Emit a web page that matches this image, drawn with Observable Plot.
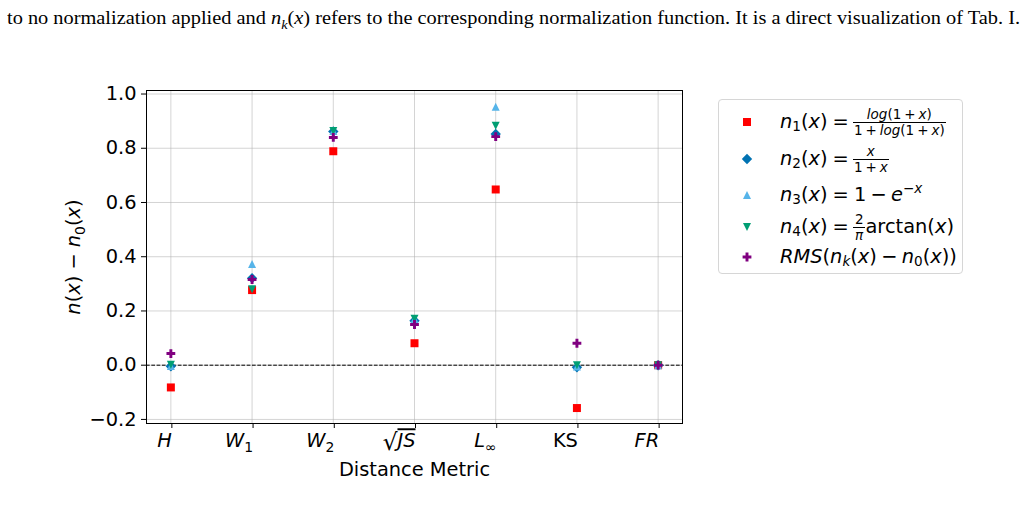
<!DOCTYPE html>
<html><head><meta charset="utf-8">
<script src="https://cdn.jsdelivr.net/npm/d3@7"></script>
<script src="https://cdn.jsdelivr.net/npm/@observablehq/plot@0.6"></script>
<style>
html,body{margin:0;padding:0;background:#fff;}
body{width:1027px;height:518px;overflow:hidden;position:relative;font-family:"DejaVu Sans",sans-serif;color:#000;}
#caption{position:absolute;left:7px;top:8px;font-family:"Liberation Serif",serif;font-size:18.5px;white-space:nowrap;transform-origin:0 0;line-height:20px;}
#caption sub{font-size:70%;line-height:0;}
#chart{position:absolute;left:0;top:0;}
#legend{position:absolute;left:718px;top:99px;width:245px;height:175px;border:1px solid #d6d6d6;border-radius:4px;box-sizing:border-box;background:#fff;}
.row{position:absolute;left:0;width:100%;height:0;}
.row svg{position:absolute;left:17px;top:-11px;overflow:visible;}
.row .t{position:absolute;left:61px;top:0;transform:translateY(-50%);font-size:19.4px;white-space:nowrap;line-height:22px;}
.i{font-style:italic;}
.op{margin:0 0.22em;}
.rel{margin:0 0.26em;}
.t sub{font-size:70%;line-height:0;vertical-align:-0.25em;}
.t sup{font-size:70%;line-height:0;vertical-align:0.6em;}
.frac{display:inline-flex;flex-direction:column;align-items:center;vertical-align:middle;font-size:13.5px;line-height:14.5px;margin-right:1px;}
.frac .num{border-bottom:1px solid #000;padding:0 1px;width:100%;text-align:center;}
</style></head><body>
<div id="caption">to no normalization applied and <i>n</i><sub><i>k</i></sub>(<i>x</i>) refers to the corresponding normalization function. It is a direct visualization of Tab. I.</div>
<div id="chart"></div>
<div id="legend"></div>
<script>
// ---- data ----
const metrics = ["H", "W₁", "W₂", "√JS", "L∞", "KS", "FR"];
const n1  = [-0.082, 0.277, 0.789, 0.081, 0.648, -0.158, 0.0];
const n2  = [-0.004, 0.321, 0.862, 0.164, 0.853, -0.008, 0.0];
const n3  = [-0.003, 0.373, 0.864, 0.170, 0.953, -0.005, 0.0];
const n4  = [ 0.002, 0.280, 0.864, 0.171, 0.883,  0.000, 0.0];
const rms = [ 0.043, 0.316, 0.840, 0.150, 0.843,  0.081, 0.0];
const yTicks = [-0.2, 0.0, 0.2, 0.4, 0.6, 0.8, 1.0];
const seriesKeys = ["n1", "n2", "n3", "n4", "rms"];
const seriesValues = [n1, n2, n3, n4, rms];
const seriesColors = ["#ff0000", "#0072b2", "#56b4e9", "#009e73", "#800080"];
const legendLabels = [
  '<span class="i">n</span><sub>1</sub>(<span class="i">x</span>)<span class="rel">=</span><span class="frac"><span class="num"><span class="i">log</span>(1<span class="op">+</span><span class="i">x</span>)</span><span>1<span class="op">+</span><span class="i">log</span>(1<span class="op">+</span><span class="i">x</span>)</span></span>',
  '<span class="i">n</span><sub>2</sub>(<span class="i">x</span>)<span class="rel">=</span><span class="frac"><span class="num"><span class="i">x</span></span><span>1<span class="op">+</span><span class="i">x</span></span></span>',
  '<span class="i">n</span><sub>3</sub>(<span class="i">x</span>)<span class="rel">=</span>1<span class="op">−</span><span class="i">e</span><sup>−<span class="i">x</span></sup>',
  '<span class="i">n</span><sub>4</sub>(<span class="i">x</span>)<span class="rel">=</span><span class="frac"><span class="num">2</span><span class="i">π</span></span>arctan(<span class="i">x</span>)',
  '<span class="i">RMS</span>(<span class="i">n</span><sub><span class="i">k</span></sub>(<span class="i">x</span>)<span class="op">−</span><span class="i">n</span><sub>0</sub>(<span class="i">x</span>))'
];

// ---- symbols (matplotlib-like markers) ----
function sym(f) { return {draw(c, size) { f(c, Math.sqrt(size / Math.PI)); }}; }
const symbols = [
  sym((c, r) => { c.rect(-r, -r, 2 * r, 2 * r); }),
  sym((c, r) => { const d = r * 1.3; c.moveTo(0, -d); c.lineTo(d, 0); c.lineTo(0, d); c.lineTo(-d, 0); c.closePath(); }),
  sym((c, r) => { c.moveTo(0, -r); c.lineTo(r, r); c.lineTo(-r, r); c.closePath(); }),
  sym((c, r) => { c.moveTo(0, r); c.lineTo(r, -r); c.lineTo(-r, -r); c.closePath(); }),
  sym((c, r) => { const a = r * 1.1, b = a / 3;
    c.moveTo(-b, -a); c.lineTo(b, -a); c.lineTo(b, -b); c.lineTo(a, -b); c.lineTo(a, b); c.lineTo(b, b);
    c.lineTo(b, a); c.lineTo(-b, a); c.lineTo(-b, b); c.lineTo(-a, b); c.lineTo(-a, -b); c.lineTo(-b, -b); c.closePath(); })
];
const R = 4;

const rows = [];
seriesKeys.forEach((k, s) => metrics.forEach((m, i) => rows.push({series: k, s, i, value: seriesValues[s][i]})));

const FS = 19.4;
const gridStyle = {stroke: "#b0b0b0", strokeOpacity: 0.55, strokeWidth: 1};
const chart = Plot.plot({
  width: 1027, height: 518,
  marginLeft: 146, marginRight: 345, marginTop: 90, marginBottom: 95,
  style: {fontFamily: "DejaVu Sans", fontSize: FS + "px", color: "#000", background: "transparent", overflow: "visible"},
  x: {domain: [-0.3, 6.3]},
  y: {domain: [-0.215, 1.013]},
  marks: [
    Plot.gridX(metrics.map((d, i) => i), gridStyle),
    Plot.gridY(yTicks, gridStyle),
    Plot.ruleY([0], {stroke: "#000", strokeWidth: 1, strokeDasharray: "3.7,1.6"}),
    ...seriesKeys.map((k, s) => Plot.dot(rows.filter(d => d.s === s), {
      x: "i", y: "value", r: R, symbol: symbols[s], fill: seriesColors[s], stroke: "none"
    })),
    Plot.frame({stroke: "#000", strokeWidth: 1}),
    Plot.axisX(metrics.map((d, i) => i), {tickFormat: i => metrics[i], tickSize: 5, tickPadding: 5, fontSize: FS,
      textAnchor: "end", dx: 1,
      label: "Distance Metric", labelAnchor: "center", labelOffset: 52, labelArrow: "none"}),
    Plot.axisY(yTicks, {tickFormat: d3.format(".1f"), tickSize: 5, tickPadding: 5, fontSize: FS,
      label: "n(x) − n₀(x)", labelAnchor: "center", labelOffset: 80, labelArrow: "none"})
  ]
});
document.getElementById("chart").appendChild(chart);

// ---- rich text for math-like labels ----
function richify(textEl, basePx, upright) {
  const s = textEl.textContent;
  const subMap = {"₀": "0", "₁": "1", "₂": "2", "∞": "∞"};
  const groups = [];
  let overline = false;
  for (const ch of s) {
    let cls;
    if (subMap[ch] !== undefined) cls = "sub";
    else if (ch === "√") cls = "rad";
    else if (/[A-Za-z]/.test(ch)) cls = upright ? "n" : "it";
    else cls = "n";
    const ov = overline && cls === "it";
    const last = groups[groups.length - 1];
    const t = cls === "sub" ? subMap[ch] : ch;
    if (last && last.cls === cls && last.ov === ov) last.t += t;
    else groups.push({cls, t, ov});
    if (ch === "√") overline = true;
  }
  const sel = d3.select(textEl);
  sel.text(null);
  let shift = 0;
  for (const g of groups) {
    const ts = sel.append("tspan").text(g.t);
    let target = 0;
    if (g.cls === "it") ts.attr("font-style", "italic");
    if (g.ov) ts.style("text-decoration", "overline");
    if (g.cls === "sub") { ts.attr("font-size", (basePx * 0.72) + "px"); target = basePx * 0.22; }
    if (g.cls === "rad") { ts.attr("font-size", (basePx * 1.2) + "px"); target = 3; }
    if (target !== shift) { ts.attr("dy", target - shift); shift = target; }
  }
}
const svg = d3.select(chart);
svg.selectAll('g[aria-label="x-axis tick label"] text').each(function() {
  richify(this, FS, this.textContent === "KS");
});
svg.selectAll('g[aria-label="y-axis label"] text').each(function() {
  d3.select(this).attr("font-size", FS + "px");
  richify(this, FS, false);
});
svg.selectAll('g[aria-label="x-axis label"] text').attr("font-size", FS + "px");

// ---- legend ----
const legendRowY = [22, 59, 95, 127, 157];
const legend = d3.select("#legend");
seriesKeys.forEach((k, s) => {
  const row = legend.append("div").attr("class", "row").style("top", legendRowY[s] + "px");
  const p = d3.path();
  symbols[s].draw(p, R * R * Math.PI);
  row.append("svg").attr("width", 22).attr("height", 22)
    .append("path").attr("transform", "translate(11,11)").attr("d", p.toString()).attr("fill", seriesColors[s]);
  row.append("div").attr("class", "t").html(legendLabels[s]);
});

// ---- caption width fit ----
const cap = document.getElementById("caption");
const w = cap.getBoundingClientRect().width;
cap.style.transform = `scaleX(${1013 / w})`;
</script></body></html>
